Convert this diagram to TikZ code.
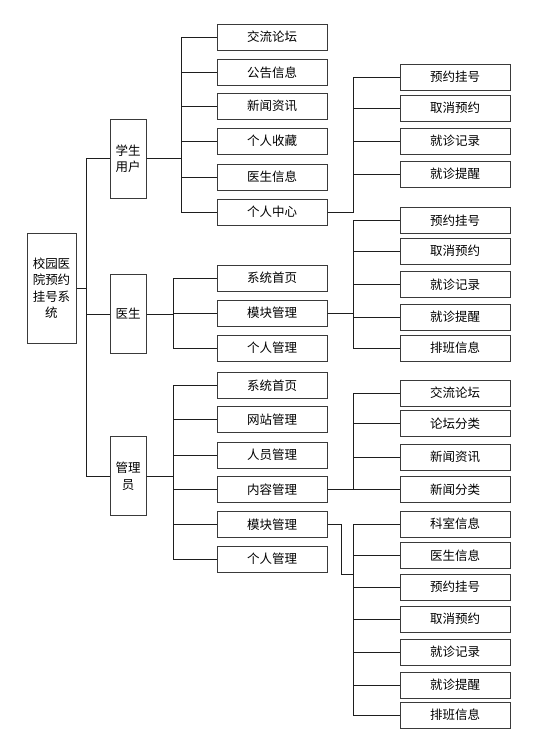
\documentclass[tikz,border=0pt]{standalone}
\usepackage{fontspec}
\usepackage{xcolor}
\usepackage{tikz}
\usetikzlibrary{positioning}
\newfontfamily\cjk{Noto Sans CJK SC}
\definecolor{hosEdge}{HTML}{3A3A3A}
\definecolor{hosLine}{HTML}{1E1E1E}
\tikzset{
  hosbox/.style={rectangle,draw=hosEdge,line width=1pt,fill=white,inner sep=0pt,
                 font=\cjk\fontsize{12.5}{16.5}\selectfont,align=center},
  hosroot/.style={hosbox,minimum width=49pt,minimum height=110pt},
  hosrole/.style={hosbox,minimum width=36pt,minimum height=79pt},
  hositem/.style={hosbox,minimum width=110pt,minimum height=26pt},
  hoswire/.style={draw=hosLine,line width=0.9pt}
}
\begin{document}
\begin{tikzpicture}[x=1pt,y=-1pt]
    \useasboundingbox (0,0) rectangle (537,732);
    % root and roles
    \node[hosroot] (root) at (51.5,288) {校园医\\院预约\\挂号系\\统};
    \node[hosrole] (stu) at (128,158.5) {学生\\用户};
    \node[hosrole] (doc) at (128,314) {医生};
    \node[hosrole] (adm) at (128,476) {管理\\员};
    \draw[hoswire] (root.east) -- ++(10,0) |- (stu.west);
    \draw[hoswire] (root.east) -- ++(10,0) |- (doc.west);
    \draw[hoswire] (root.east) -- ++(10,0) |- (adm.west);

    % student
    \node[hositem] (s1) at (272,37) {交流论坛};
    \node[hositem] (s2) at (272,72.5) {公告信息};
    \node[hositem] (s3) at (272,106) {新闻资讯};
    \node[hositem] (s4) at (272,141) {个人收藏};
    \node[hositem] (s5) at (272,177) {医生信息};
    \node[hositem] (s6) at (272,212) {个人中心};
    \draw[hoswire] (stu.east) -- ++(35,0) |- (s1.west);
    \draw[hoswire] (stu.east) -- ++(35,0) |- (s2.west);
    \draw[hoswire] (stu.east) -- ++(35,0) |- (s3.west);
    \draw[hoswire] (stu.east) -- ++(35,0) |- (s4.west);
    \draw[hoswire] (stu.east) -- ++(35,0) |- (s5.west);
    \draw[hoswire] (stu.east) -- ++(35,0) |- (s6.west);
    \node[hositem] (sc1) at (455,77) {预约挂号};
    \node[hositem] (sc2) at (455,108) {取消预约};
    \node[hositem] (sc3) at (455,141) {就诊记录};
    \node[hositem] (sc4) at (455,174) {就诊提醒};
    \draw[hoswire] (s6.east) -- ++(26,0) |- (sc1.west);
    \draw[hoswire] (s6.east) -- ++(26,0) |- (sc2.west);
    \draw[hoswire] (s6.east) -- ++(26,0) |- (sc3.west);
    \draw[hoswire] (s6.east) -- ++(26,0) |- (sc4.west);

    % doctor
    \node[hositem] (d1) at (272,278) {系统首页};
    \node[hositem] (d2) at (272,313) {模块管理};
    \node[hositem] (d3) at (272,348) {个人管理};
    \draw[hoswire] (doc.east) -- ++(27,0) |- (d1.west);
    \draw[hoswire] (doc.east) -- ++(27,0) |- (d2.west);
    \draw[hoswire] (doc.east) -- ++(27,0) |- (d3.west);
    \node[hositem] (dm1) at (455,220.5) {预约挂号};
    \node[hositem] (dm2) at (455,251) {取消预约};
    \node[hositem] (dm3) at (455,284.5) {就诊记录};
    \node[hositem] (dm4) at (455,317) {就诊提醒};
    \node[hositem] (dm5) at (455,348) {排班信息};
    \draw[hoswire] (d2.east) -- ++(26,0) |- (dm1.west);
    \draw[hoswire] (d2.east) -- ++(26,0) |- (dm2.west);
    \draw[hoswire] (d2.east) -- ++(26,0) |- (dm3.west);
    \draw[hoswire] (d2.east) -- ++(26,0) |- (dm4.west);
    \draw[hoswire] (d2.east) -- ++(26,0) |- (dm5.west);

    % admin
    \node[hositem] (a1) at (272,385.5) {系统首页};
    \node[hositem] (a2) at (272,419.5) {网站管理};
    \node[hositem] (a3) at (272,455) {人员管理};
    \node[hositem] (a4) at (272,489.5) {内容管理};
    \node[hositem] (a5) at (272,524.5) {模块管理};
    \node[hositem] (a6) at (272,559) {个人管理};
    \draw[hoswire] (adm.east) -- ++(27,0) |- (a1.west);
    \draw[hoswire] (adm.east) -- ++(27,0) |- (a2.west);
    \draw[hoswire] (adm.east) -- ++(27,0) |- (a3.west);
    \draw[hoswire] (adm.east) -- ++(27,0) |- (a4.west);
    \draw[hoswire] (adm.east) -- ++(27,0) |- (a5.west);
    \draw[hoswire] (adm.east) -- ++(27,0) |- (a6.west);
    \node[hositem] (ac1) at (455,393) {交流论坛};
    \node[hositem] (ac2) at (455,423.5) {论坛分类};
    \node[hositem] (ac3) at (455,457) {新闻资讯};
    \node[hositem] (ac4) at (455,489.5) {新闻分类};
    \draw[hoswire] (a4.east) -- ++(26,0) |- (ac1.west);
    \draw[hoswire] (a4.east) -- ++(26,0) |- (ac2.west);
    \draw[hoswire] (a4.east) -- ++(26,0) |- (ac3.west);
    \draw[hoswire] (a4.east) -- ++(26,0) |- (ac4.west);
    \node[hositem] (am1) at (455,524) {科室信息};
    \node[hositem] (am2) at (455,555.5) {医生信息};
    \node[hositem] (am3) at (455,587) {预约挂号};
    \node[hositem] (am4) at (455,619) {取消预约};
    \node[hositem] (am5) at (455,652) {就诊记录};
    \node[hositem] (am6) at (455,685) {就诊提醒};
    \node[hositem] (am7) at (455,715) {排班信息};
    \coordinate (amjoin) at (353,574);
    \draw[hoswire] (a5.east) -- ++(14,0) |- (amjoin);
    \draw[hoswire] (amjoin) |- (am1.west);
    \draw[hoswire] (amjoin) |- (am2.west);
    \draw[hoswire] (amjoin) |- (am3.west);
    \draw[hoswire] (amjoin) |- (am4.west);
    \draw[hoswire] (amjoin) |- (am5.west);
    \draw[hoswire] (amjoin) |- (am6.west);
    \draw[hoswire] (amjoin) |- (am7.west);
  \end{tikzpicture}
\end{document}
